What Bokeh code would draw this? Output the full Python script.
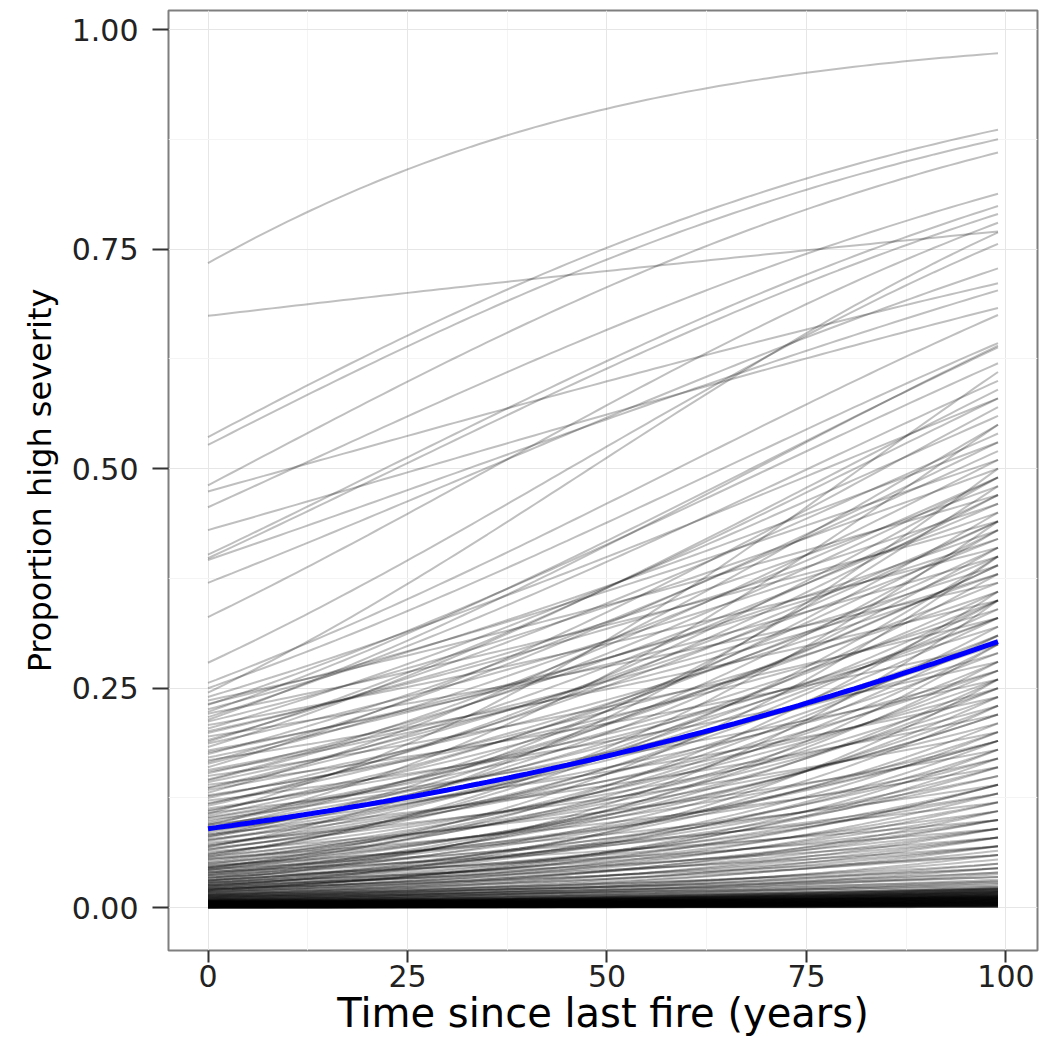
import numpy as np
from bokeh.plotting import figure
from bokeh.models import Range1d, FixedTicker
from bokeh.embed import file_html
from bokeh.resources import INLINE

# ---- axes ----
x_ticks = [0, 25, 50, 75, 100]
x_tick_labels = ["0", "25", "50", "75", "100"]
x_minor = [12.5, 37.5, 62.5, 87.5]
y_ticks = [0.0, 0.25, 0.5, 0.75, 1.0]
y_tick_labels = ["0.00", "0.25", "0.50", "0.75", "1.00"]
y_minor = [0.125, 0.375, 0.625, 0.875]
x_max = 99  # years covered by each fitted curve

# ---- fitted curves: proportion at year 0 (p0) and at year 99 (p1) ----
upper_p0 = [0.734, 0.674, 0.536, 0.527, 0.481, 0.474, 0.456, 0.430, 0.402,
            0.398, 0.396, 0.370, 0.331, 0.279, 0.256, 0.250, 0.245, 0.223]
upper_p1 = [0.973, 0.770, 0.886, 0.875, 0.860, 0.711, 0.813, 0.683, 0.799,
            0.790, 0.703, 0.728, 0.780, 0.756, 0.675, 0.643, 0.769, 0.638]

mid_p0 = [0.240, 0.236, 0.231, 0.226, 0.221, 0.217, 0.212, 0.208, 0.204, 0.199,
          0.195, 0.191, 0.187, 0.183, 0.179, 0.175, 0.171, 0.168, 0.164, 0.160,
          0.157, 0.153, 0.150, 0.146, 0.143, 0.140, 0.137, 0.134, 0.131, 0.128,
          0.125, 0.122, 0.119, 0.116, 0.113, 0.111, 0.108, 0.105, 0.103, 0.100,
          0.098, 0.095, 0.093, 0.091, 0.088, 0.086, 0.084, 0.082, 0.080, 0.078,
          0.076, 0.074, 0.072, 0.070, 0.068, 0.066, 0.064, 0.062, 0.061, 0.059,
          0.057, 0.056, 0.054, 0.052, 0.051]
mid_p1 = [0.58, 0.47, 0.62, 0.53, 0.44, 0.60, 0.50, 0.41, 0.56, 0.48,
          0.37, 0.54, 0.45, 0.59, 0.40, 0.52, 0.43, 0.35, 0.49, 0.57,
          0.39, 0.46, 0.33, 0.51, 0.42, 0.30, 0.47, 0.38, 0.55, 0.34,
          0.44, 0.28, 0.40, 0.49, 0.32, 0.37, 0.26, 0.43, 0.35, 0.29,
          0.39, 0.24, 0.33, 0.45, 0.27, 0.36, 0.22, 0.31, 0.41, 0.25,
          0.34, 0.20, 0.29, 0.38, 0.23, 0.31, 0.18, 0.26, 0.35, 0.21,
          0.28, 0.16, 0.24, 0.32, 0.19]

mid2_p0 = [0.232, 0.214, 0.201, 0.189, 0.177, 0.166, 0.155, 0.145, 0.136, 0.127,
           0.118, 0.110, 0.102, 0.096, 0.089, 0.083, 0.077, 0.071, 0.066, 0.060,
           0.055, 0.050, 0.046, 0.043, 0.040, 0.037, 0.034, 0.031, 0.028, 0.026,
           0.024, 0.022, 0.020, 0.031, 0.045, 0.058, 0.069, 0.081, 0.094, 0.107]
mid2_p1 = [0.51, 0.64, 0.46, 0.58, 0.42, 0.53, 0.38, 0.49, 0.44, 0.36,
           0.47, 0.41, 0.33, 0.39, 0.30, 0.43, 0.35, 0.27, 0.33, 0.40,
           0.25, 0.31, 0.22, 0.36, 0.19, 0.26, 0.30, 0.16, 0.23, 0.20,
           0.26, 0.14, 0.18, 0.35, 0.40, 0.44, 0.50, 0.48, 0.55, 0.61]

low_p0 = [0.049, 0.048, 0.047, 0.046, 0.045, 0.044, 0.043, 0.042, 0.041, 0.040,
          0.039, 0.038, 0.037, 0.036, 0.035, 0.034, 0.033, 0.032, 0.031, 0.030,
          0.029, 0.029, 0.028, 0.027, 0.026, 0.026, 0.025, 0.024, 0.024, 0.023,
          0.022, 0.022, 0.021, 0.021, 0.020, 0.020, 0.019, 0.019, 0.018, 0.018]
low_p1 = [0.27, 0.14, 0.22, 0.30, 0.17, 0.12, 0.25, 0.19, 0.10, 0.23,
          0.15, 0.28, 0.13, 0.20, 0.09, 0.17, 0.24, 0.11, 0.15, 0.21,
          0.08, 0.13, 0.18, 0.10, 0.14, 0.07, 0.19, 0.12, 0.09, 0.16,
          0.06, 0.11, 0.14, 0.08, 0.17, 0.10, 0.13, 0.07, 0.09, 0.12]

lower_p0 = [0.0175, 0.0170, 0.0165, 0.0160, 0.0155, 0.0150, 0.0148, 0.0145, 0.0140, 0.0138,
            0.0135, 0.0130, 0.0128, 0.0125, 0.0120, 0.0118, 0.0115, 0.0110, 0.0108, 0.0105,
            0.0100, 0.0098, 0.0095, 0.0092, 0.0090, 0.0088, 0.0085, 0.0082, 0.0080, 0.0078]
lower_p1 = [0.060, 0.100, 0.045, 0.080, 0.035, 0.070, 0.110, 0.050, 0.040, 0.090,
            0.030, 0.065, 0.045, 0.025, 0.080, 0.035, 0.055, 0.028, 0.070, 0.040,
            0.024, 0.050, 0.032, 0.060, 0.022, 0.038, 0.027, 0.045, 0.021, 0.030]

band_p0 = [0.0080, 0.0078, 0.0077, 0.0075, 0.0074, 0.0072, 0.0071, 0.0069, 0.0068, 0.0066,
           0.0065, 0.0063, 0.0062, 0.0061, 0.0059, 0.0058, 0.0057, 0.0055, 0.0054, 0.0053,
           0.0052, 0.0050, 0.0049, 0.0048, 0.0047, 0.0046, 0.0045, 0.0044, 0.0043, 0.0042,
           0.0041, 0.0040, 0.0039, 0.0038, 0.0037, 0.0036, 0.0035, 0.0034, 0.0033, 0.0032,
           0.0031, 0.0030, 0.0029, 0.0029, 0.0028, 0.0027, 0.0026, 0.0025, 0.0025, 0.0024,
           0.0023, 0.0022, 0.0022, 0.0021, 0.0020, 0.0019, 0.0019, 0.0018, 0.0017, 0.0017,
           0.0016, 0.0015, 0.0015, 0.0014, 0.0013, 0.0013, 0.0012, 0.0012, 0.0011, 0.0010,
           0.0010, 0.0009, 0.0009, 0.0008, 0.0008, 0.0007, 0.0007, 0.0006, 0.0006, 0.0005,
           0.0005, 0.0005, 0.0004, 0.0004, 0.0004, 0.0003, 0.0003, 0.0003, 0.0002, 0.0002]
band_p1 = [0.022, 0.015, 0.019, 0.012, 0.023, 0.017, 0.010, 0.021, 0.014, 0.018,
           0.011, 0.020, 0.016, 0.009, 0.022, 0.013, 0.019, 0.012, 0.017, 0.008,
           0.021, 0.015, 0.011, 0.018, 0.007, 0.014, 0.020, 0.010, 0.016, 0.013,
           0.006, 0.019, 0.012, 0.009, 0.017, 0.014, 0.008, 0.011, 0.015, 0.006,
           0.013, 0.010, 0.018, 0.007, 0.012, 0.009, 0.005, 0.014, 0.011, 0.008,
           0.016, 0.006, 0.010, 0.013, 0.007, 0.009, 0.005, 0.012, 0.008, 0.004,
           0.011, 0.006, 0.009, 0.005, 0.007, 0.010, 0.004, 0.008, 0.006, 0.003,
           0.007, 0.005, 0.004, 0.006, 0.003, 0.005, 0.004, 0.003, 0.0045, 0.0025,
           0.0035, 0.002, 0.003, 0.0025, 0.0018, 0.0022, 0.0015, 0.0012, 0.001, 0.0008]

# overall mean curve (blue)
mean_p0 = 0.090
mean_p1 = 0.303

years = np.linspace(0, x_max, 100)


def logit(p):
    return np.log(p / (1.0 - p))


def curve(p0, p1):
    a = logit(p0)
    b = (logit(p1) - a) / x_max
    return 1.0 / (1.0 + np.exp(-(a + b * years)))


all_p0 = band_p0 + lower_p0 + low_p0 + mid2_p0 + mid_p0 + upper_p0
all_p1 = band_p1 + lower_p1 + low_p1 + mid2_p1 + mid_p1 + upper_p1
xs_list = [years.tolist() for _ in all_p0]
ys_list = [curve(a, b).tolist() for a, b in zip(all_p0, all_p1)]

p = figure(width=1040, height=1040,
           x_range=Range1d(-4.95, 103.95), y_range=Range1d(-0.0487, 1.0217),
           output_backend="svg", toolbar_location=None,
           min_border_left=168, min_border_right=3, min_border_top=10,
           min_border_bottom=90,
           background_fill_color="white", border_fill_color="white")

p.outline_line_color = "#7f7f7f"
p.outline_line_width = 2
p.outline_line_alpha = 1.0

p.xaxis.ticker = FixedTicker(ticks=x_ticks, minor_ticks=x_minor)
p.yaxis.ticker = FixedTicker(ticks=y_ticks, minor_ticks=y_minor)
p.xaxis.major_label_overrides = {t: s for t, s in zip(x_ticks, x_tick_labels)}
p.yaxis.major_label_overrides = {t: s for t, s in zip(y_ticks, y_tick_labels)}

for ax in (p.xaxis[0], p.yaxis[0]):
    ax.axis_line_color = None
    ax.major_tick_line_color = "#333333"
    ax.major_tick_line_width = 2
    ax.major_tick_in = 0
    ax.minor_tick_line_color = None
    ax.major_label_text_font = "DejaVu Sans"
    ax.major_label_text_font_size = "30px"
    ax.major_label_text_color = "#222222"
    ax.axis_label_text_font = "DejaVu Sans"
    ax.axis_label_text_font_style = "normal"
    ax.axis_label_text_color = "black"

p.xaxis.major_tick_out = 12
p.xaxis.major_label_standoff = 2
p.xaxis.axis_label = "Time since last fire (years)"
p.xaxis.axis_label_text_font_size = "40px"
p.xaxis.axis_label_standoff = 0

p.yaxis.major_tick_out = 16
p.yaxis.major_label_standoff = 14
p.yaxis.axis_label = "Proportion high severity"
p.yaxis.axis_label_text_font_size = "32px"
p.yaxis.axis_label_standoff = 10

for g in (p.xgrid[0], p.ygrid[0]):
    g.grid_line_color = "#e6e6e6"
    g.grid_line_width = 1
    g.minor_grid_line_color = "#f4f4f4"
    g.minor_grid_line_width = 1

p.multi_line(xs=xs_list, ys=ys_list, line_color="black",
             line_alpha=0.25, line_width=2)
p.line(years, curve(mean_p0, mean_p1), line_color="#0000ff", line_width=5)

open("out.html", "w").write(file_html(p, INLINE))
